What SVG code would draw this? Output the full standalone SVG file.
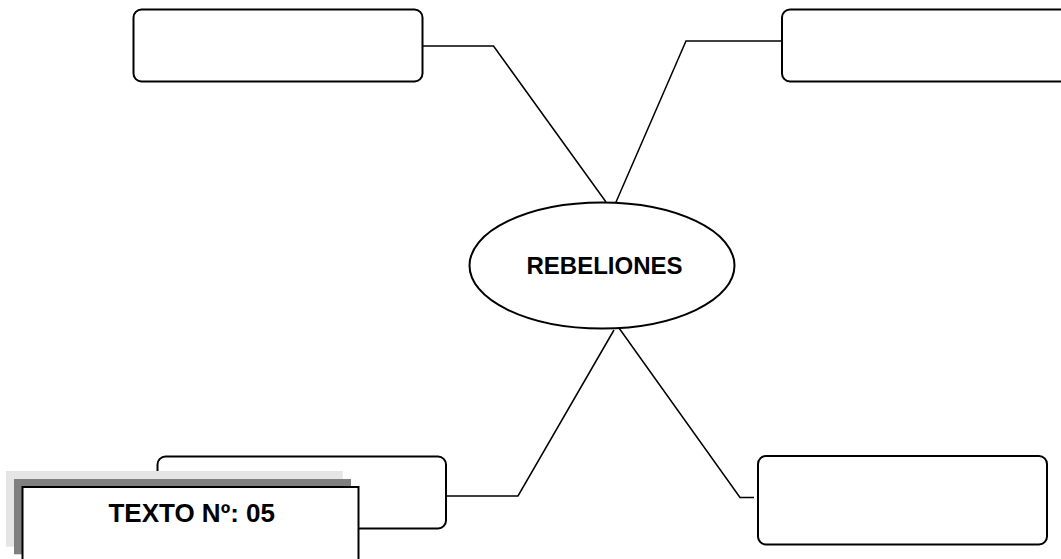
<svg xmlns="http://www.w3.org/2000/svg" width="1061" height="559" viewBox="0 0 1061 559">
<style>
.box{fill:#fff;stroke:#000;stroke-width:2}
.con{fill:none;stroke:#000;stroke-width:1.5}
.lbl{font-family:"Liberation Sans",Arial,sans-serif;font-weight:bold;fill:#000;text-anchor:middle}
</style>
<rect width="1061" height="559" fill="#fff"/>
<g id="connectors">
<polyline class="con" points="422,46 493.5,46 606,202"/>
<polyline class="con" points="782,41 686,41 613,209"/>
<polyline class="con" points="446,496 518,496 614,330"/>
<polyline class="con" points="619,328 740,497.5 754,497.5"/>
</g>
<g id="node-top-left"><rect class="box" x="133.5" y="9.5" width="289" height="72" rx="8"/></g>
<g id="node-top-right"><rect class="box" x="782" y="9.5" width="300" height="72" rx="8"/></g>
<g id="node-center">
<ellipse class="box" cx="602" cy="265.5" rx="132.5" ry="63" stroke-width="1.5"/>
<text class="lbl" x="604.5" y="273.5" font-size="24">REBELIONES</text>
</g>
<g id="node-bottom-left"><rect class="box" x="157.5" y="456.5" width="288.5" height="72" rx="8"/></g>
<g id="node-bottom-right"><rect class="box" x="758" y="456" width="289" height="88.5" rx="8"/></g>
<g id="node-texto">
<rect x="6" y="471" width="336.7" height="75.7" fill="#e5e5e5"/>
<rect x="14" y="479" width="337" height="75.3" fill="#808080"/>
<rect x="22.5" y="487" width="336" height="80" fill="#fff" stroke="#000" stroke-width="2"/>
<text class="lbl" x="191.7" y="522" font-size="26">TEXTO Nº: 05</text>
</g>
</svg>
